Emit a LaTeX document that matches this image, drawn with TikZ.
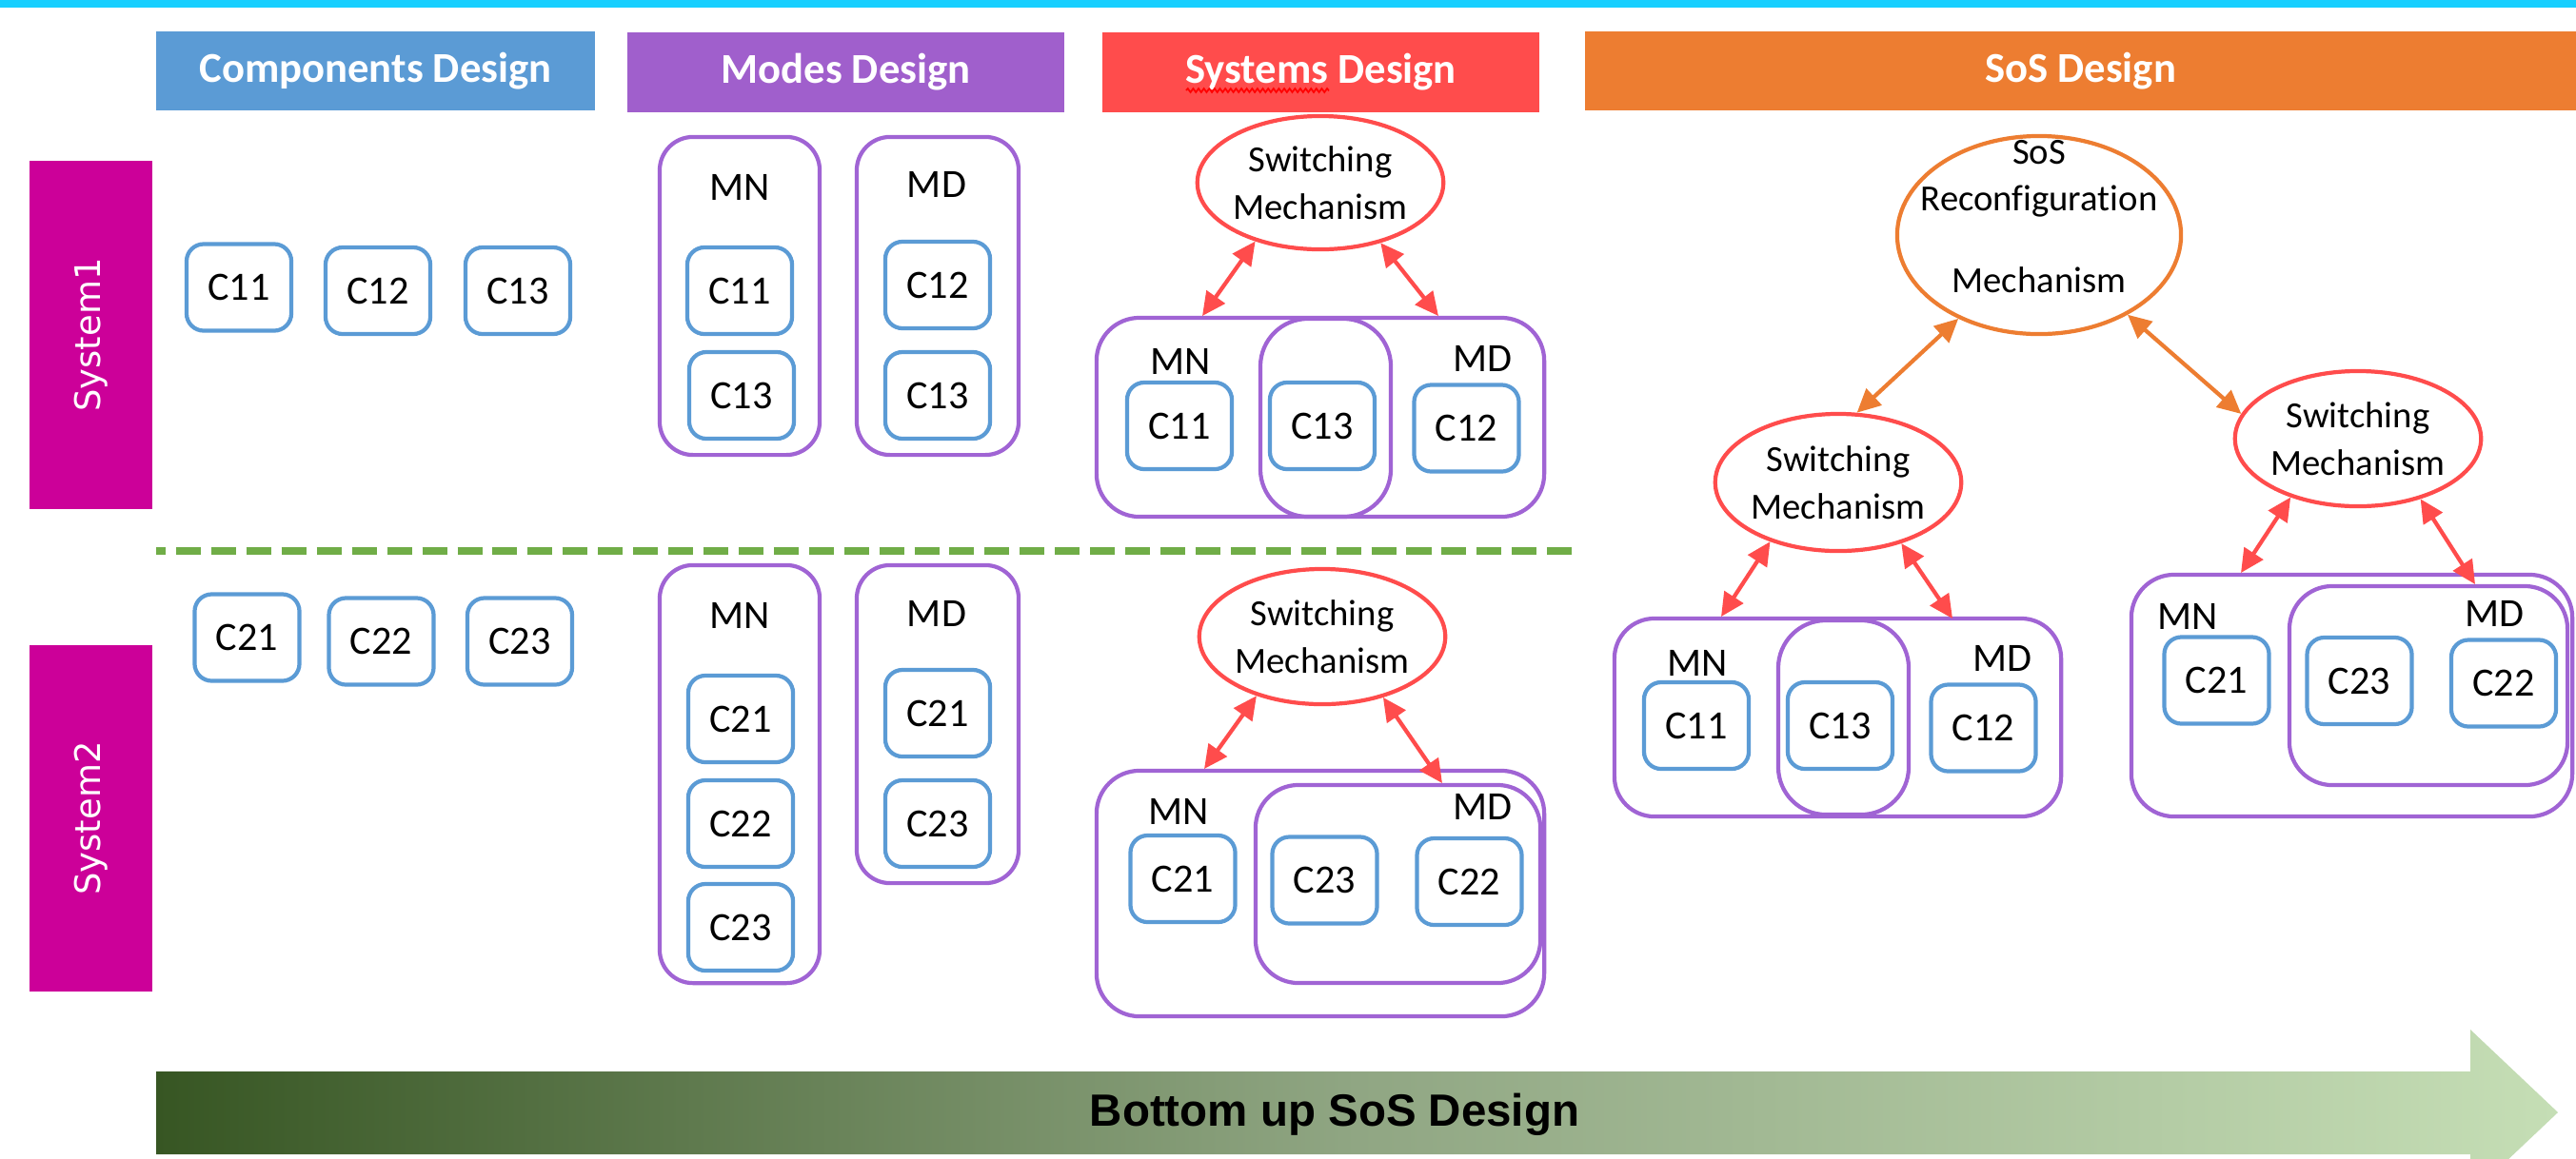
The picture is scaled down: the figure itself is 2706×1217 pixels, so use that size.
\documentclass[tikz,border=0pt]{standalone}
\usepackage{fontspec}
\setmainfont{Carlito}[Ligatures=NoCommon]
\newfontfamily\sysfont{DejaVu Sans}
\newfontfamily\arrowfont{Liberation Sans}
\usetikzlibrary{shapes.geometric,arrows.meta,decorations.pathmorphing}
\definecolor{cyanbar}{HTML}{17CFFF}
\definecolor{hblue}{HTML}{5B9BD5}
\definecolor{hpurple}{HTML}{A05FCC}
\definecolor{hred}{HTML}{FF4C4C}
\definecolor{horange}{HTML}{ED7D31}
\definecolor{sysmag}{HTML}{CC0099}
\definecolor{cblue}{HTML}{5B9BD5}
\definecolor{mpurple}{HTML}{A064D4}
\definecolor{swred}{HTML}{FF4C4C}
\definecolor{sosor}{HTML}{ED7D31}
\definecolor{dgreen}{HTML}{70AD47}
\definecolor{arrdark}{HTML}{375623}
\definecolor{arrmid}{HTML}{90A683}
\definecolor{arrlight}{HTML}{C5DEB5}
\tikzset{
 comp/.style={draw=cblue, line width=1.2pt, rounded corners=0.18cm, minimum width=1.10cm, minimum height=0.91cm, inner sep=0pt, font=\fontsize{12}{14}\selectfont},
 modebox/.style={draw=mpurple, line width=1.2pt, rounded corners=0.35cm, inner sep=0pt},
 lbl/.style={inner sep=0pt, font=\fontsize{12}{14}\selectfont},
 hdr/.style={inner sep=0pt, text=white, font=\bfseries\fontsize{12.7}{15}\selectfont, minimum height=0.83cm},
 swell/.style={ellipse, draw=swred, line width=1.2pt, inner sep=0pt, align=center, font=\fontsize{11}{14.2}\selectfont},
 sysbar/.style={fill=sysmag, inner sep=0pt, minimum height=1.29cm, text=white, font=\sysfont\fontsize{10.5}{12}\selectfont},
 redarr/.style={draw=swred, line width=1.2pt, {Triangle[length=7pt,width=6.6pt]}-{Triangle[length=7pt,width=6.6pt]}},
 orarr/.style={draw=sosor, line width=1.2pt, {Triangle[length=7pt,width=6.6pt]}-{Triangle[length=7pt,width=6.6pt]}},
}
\begin{document}
\begin{tikzpicture}[x=0.01cm,y=-0.01cm]
\useasboundingbox (0,0) rectangle (2706,1217);
\clip (0,0) rectangle (2706,1217);
\fill[white] (0,0) rectangle (2706,1217);
\fill[cyanbar] (0,0) rectangle (2706,8);

% headers
\node[hdr, fill=hblue, minimum width=4.61cm] (hcomp) at (394.5,74.5) {Components Design};
\node[hdr, fill=hpurple, minimum width=4.59cm] (hmode) at (888.5,76) {Modes Design};
\node[hdr, fill=hred, minimum width=4.59cm] (hsys) at (1387.5,76) {Systems Design};
\node[hdr, fill=horange, minimum width=10.41cm] (hsos) at (2185.5,74.5) {SoS Design};
\draw[red, line width=0.5pt, decorate, decoration={snake, amplitude=0.55pt, segment length=1.6pt}] (1246,95) -- (1396,95);

% system bars
\node[sysbar, rotate=90, minimum width=3.66cm] (sys1) at (95.5,352) {System1};
\node[sysbar, rotate=90, minimum width=3.64cm] (sys2) at (95.5,860) {System2};

% separator
\draw[dgreen, line width=2.3pt, dash pattern=on 7.4pt off 3.1pt, dash phase=4.5pt] (164,579) -- (1661,579);

% components design
\node[comp] (a11) at (251,302) {C11};
\node[comp] (a12) at (397,305.5) {C12};
\node[comp] (a13) at (544,305.5) {C13};
\node[comp] (a21) at (259.5,670) {C21};
\node[comp] (a22) at (400.5,674) {C22};
\node[comp] (a23) at (546,674) {C23};

% modes design system1
\node[modebox, minimum width=1.68cm, minimum height=3.34cm] (m1n) at (777,311) {};
\node[modebox, minimum width=1.70cm, minimum height=3.34cm] (m1d) at (985,311) {};
\node[lbl] (m1nl) at (777,197) {MN};
\node[lbl] (m1dl) at (984,194) {MD};
\node[comp] (m1n11) at (777,305.5) {C11};
\node[comp] (m1n13) at (779,415.5) {C13};
\node[comp] (m1d12) at (985,299.5) {C12};
\node[comp] (m1d13) at (985,415.5) {C13};

% modes design system2
\node[modebox, minimum width=1.68cm, minimum height=4.39cm] (m2n) at (777,813.5) {};
\node[modebox, minimum width=1.70cm, minimum height=3.34cm] (m2d) at (985,761) {};
\node[lbl] (m2nl) at (777,647) {MN};
\node[lbl] (m2dl) at (984,645) {MD};
\node[comp] (m2n21) at (778,755.5) {C21};
\node[comp] (m2n22) at (778,865.5) {C22};
\node[comp] (m2n23) at (778,974.5) {C23};
\node[comp] (m2d21) at (985,749.5) {C21};
\node[comp] (m2d23) at (985,865.5) {C23};

% systems design system1
\node[swell, minimum width=2.56cm, minimum height=1.40cm] (sw1) at (1387,192) {Switching\\Mechanism};
\node[modebox, rounded corners=0.45cm, minimum width=4.70cm, minimum height=2.09cm] (s1out) at (1387,438.5) {};
\node[modebox, rounded corners=0.5cm, minimum width=1.37cm, minimum height=2.08cm] (s1mid) at (1392.5,439) {};
\node[lbl] (s1mn) at (1240,380) {MN};
\node[lbl] (s1md) at (1557,377) {MD};
\node[comp] (s1c11) at (1239,447.5) {C11};
\node[comp] (s1c13) at (1389,447.5) {C13};
\node[comp] (s1c12) at (1540.5,450) {C12};
\coordinate (s1a) at (1263,332);
\coordinate (s1b) at (1511,332);
\draw[redarr] (sw1.222) -- (s1a);
\draw[redarr] (sw1.315) -- (s1b);

% systems design system2
\node[swell, minimum width=2.56cm, minimum height=1.42cm] (sw2) at (1389,669) {Switching\\Mechanism};
\node[modebox, rounded corners=0.45cm, minimum width=4.70cm, minimum height=2.58cm] (s2out) at (1387,939) {};
\node[modebox, rounded corners=0.45cm, minimum width=2.99cm, minimum height=2.08cm] (s2md) at (1468.5,929) {};
\node[lbl] (s2mn) at (1238,853) {MN};
\node[lbl] (s2mdl) at (1557,848) {MD};
\node[comp] (s2c21) at (1242.5,923.5) {C21};
\node[comp] (s2c23) at (1391.5,925) {C23};
\node[comp] (s2c22) at (1543.5,926.5) {C22};
\coordinate (s2a) at (1265,808);
\coordinate (s2b) at (1515,823);
\draw[redarr] (sw2.222) -- (s2a);
\draw[redarr] (sw2.315) -- (s2b);

% SoS design
\node[ellipse, draw=sosor, line width=1.2pt, inner sep=0pt, minimum width=2.98cm, minimum height=2.08cm] (sosr) at (2142,247) {};
\node[lbl, font=\fontsize{11}{14.2}\selectfont] (sost1) at (2142,160) {SoS};
\node[lbl, font=\fontsize{11}{14.2}\selectfont] (sost2) at (2142,212) {Reconfiguration};
\node[lbl, font=\fontsize{11}{14.2}\selectfont] (sost3) at (2142,294) {Mechanism};
\node[swell, minimum width=2.56cm, minimum height=1.44cm] (swL) at (1931,507) {Switching\\Mechanism};
\node[swell, minimum width=2.56cm, minimum height=1.42cm] (swR) at (2477,461) {Switching\\Mechanism};
\draw[orarr] (sosr.226) -- (swL.75);
\draw[orarr] (sosr.318) -- (swR.168);

% SoS left group
\node[modebox, rounded corners=0.42cm, minimum width=4.69cm, minimum height=2.08cm] (gL) at (1930.5,754) {};
\node[modebox, rounded corners=0.5cm, minimum width=1.37cm, minimum height=2.04cm] (gLmid) at (1936.5,754) {};
\node[lbl] (gLmn) at (1783,697) {MN};
\node[lbl] (gLmd) at (2103,692) {MD};
\node[comp] (gLc11) at (1782,762.5) {C11};
\node[comp] (gLc13) at (1933,762.5) {C13};
\node[comp] (gLc12) at (2083.5,765) {C12};
\coordinate (gLa) at (1808,648);
\coordinate (gLb) at (2051,650);
\draw[redarr] (swL.221) -- (gLa);
\draw[redarr] (swL.316) -- (gLb);

% SoS right group
\node[modebox, rounded corners=0.45cm, minimum width=4.63cm, minimum height=2.54cm] (gR) at (2470.5,731) {};
\node[modebox, rounded corners=0.45cm, minimum width=2.92cm, minimum height=2.09cm] (gRmd) at (2551,720.5) {};
\node[lbl] (gRmn) at (2298,648) {MN};
\node[lbl] (gRmdl) at (2620,645) {MD};
\node[comp] (gRc21) at (2328.5,715) {C21};
\node[comp] (gRc23) at (2478.5,715.5) {C23};
\node[comp] (gRc22) at (2630,718) {C22};
\coordinate (gRa) at (2354,602);
\coordinate (gRb) at (2600,614);
\draw[redarr] (swR.221) -- (gRa);
\draw[redarr] (swR.316) -- (gRb);

% bottom arrow
\shade[left color=arrdark, right color=arrlight, middle color=arrmid] (164,1126) -- (2595,1126) -- (2595,1082) -- (2687,1169) -- (2595,1256) -- (2595,1213) -- (164,1213) -- cycle;
\node[inner sep=0pt, font=\arrowfont\bfseries\fontsize{13.5}{16}\selectfont] (bu) at (1402,1171) {Bottom up SoS Design};
\end{tikzpicture}
\end{document}
